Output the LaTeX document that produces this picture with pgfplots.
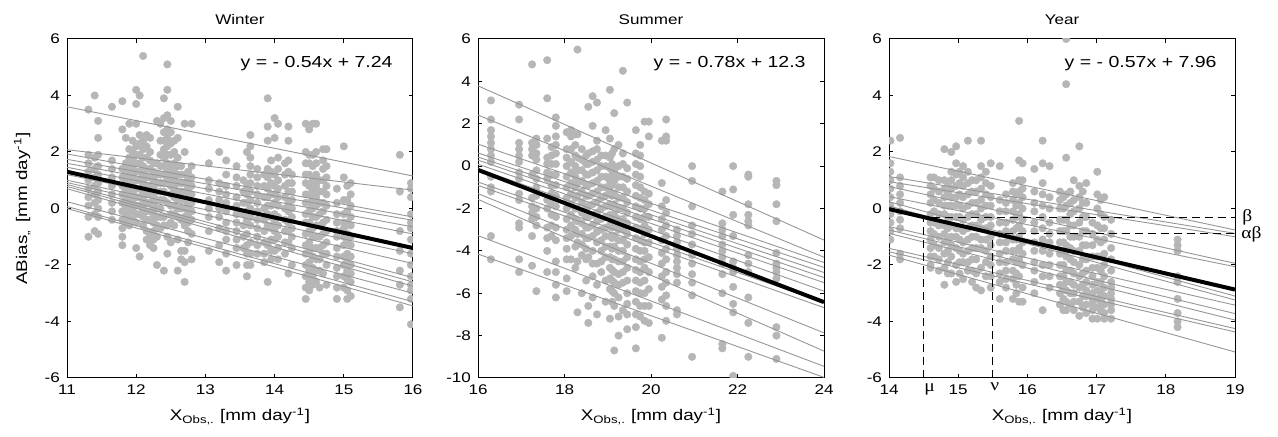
\documentclass[border=0pt]{standalone}
\usepackage{fontspec}
\setmainfont{Liberation Sans}[FakeStretch=1.22]
\newfontfamily\grk{Liberation Serif}[FakeStretch=1.15]
\usepackage{pgfplots}
\usepackage{pgfplotstable}
\pgfplotsset{compat=1.18}

\definecolor{dotgray}{RGB}{182,182,182}
\definecolor{linegray}{RGB}{150,150,150}

% one row per station column: x, then up to 12 model biases (nan = empty)
\pgfplotstableread{
x a b c d e f g h i j k l
11.31 3.5 1.9 1.6 1.3 1.0 0.7 0.4 0.1 -0.3 -1.0 nan nan
11.40 4.0 1.8 1.4 1.1 0.8 0.5 0.2 -0.2 -0.8 nan nan nan
11.45 3.1 2.5 1.9 1.5 1.2 0.9 0.6 0.3 0.0 -0.3 -0.9 nan
11.65 3.6 1.7 1.4 1.1 0.8 0.5 0.2 -0.1 -0.4 nan nan nan
11.80 3.8 2.8 1.4 1.1 0.8 0.5 0.2 -0.1 -0.4 -0.7 -1.0 -1.3
11.85 2.5 1.6 1.3 1.0 0.7 0.4 0.1 -0.2 -0.5 nan nan nan
11.90 3.0 2.1 1.8 1.5 1.2 0.9 0.6 0.3 0.0 -0.3 -0.6 nan
11.95 2.4 2.0 1.7 1.4 1.1 0.8 0.5 0.2 -0.1 -0.4 nan nan
12.00 4.2 3.7 3.0 2.2 1.9 1.6 1.3 1.0 0.7 0.4 0.1 -0.2
12.00 -0.5 -1.4 nan nan nan nan nan nan nan nan nan nan
12.05 4.0 2.6 2.3 1.9 1.6 1.3 1.0 0.7 0.4 0.1 -0.2 -1.7
12.10 5.4 2.4 2.1 1.8 1.5 1.2 0.9 0.6 0.3 0.0 -0.3 -0.6
12.15 2.6 2.2 1.8 1.4 1.1 0.8 0.5 0.2 -0.1 -0.4 -0.8 -1.1
12.20 2.5 2.0 1.7 1.4 1.1 0.8 0.5 0.2 -0.1 -0.4 -0.9 -1.3
12.25 1.6 1.3 1.0 0.7 0.4 0.1 -0.2 -0.5 -0.8 -1.1 -1.4 nan
12.30 3.1 1.6 1.2 0.9 0.6 0.3 0.0 -0.3 -0.6 -1.0 -2.0 nan
12.35 3.0 2.4 1.9 1.5 1.2 0.9 0.6 0.3 0.0 -0.3 -0.7 nan
12.40 3.9 3.2 2.7 2.4 2.1 1.8 1.5 1.2 0.9 0.6 0.3 -0.3
12.40 -0.6 -2.2 nan nan nan nan nan nan nan nan nan nan
12.45 5.1 4.2 3.3 2.8 2.5 2.2 1.9 1.6 1.3 1.0 0.2 -0.6
12.45 -1.0 -1.6 nan nan nan nan nan nan nan nan nan nan
12.50 3.1 2.7 2.3 1.9 1.5 1.1 0.8 0.5 0.1 -0.2 -0.5 -1.2
12.55 2.4 2.0 1.6 1.3 1.0 0.7 0.4 0.1 -0.2 -0.6 nan nan
12.60 3.6 2.5 1.8 1.5 1.2 0.9 0.6 0.3 0.0 -0.3 -1.1 -2.2
12.65 1.5 1.2 0.9 0.6 0.3 0.0 -0.4 -1.5 -1.8 nan nan nan
12.70 3.0 2.0 1.2 0.9 0.6 0.3 0.0 -0.3 -0.6 -1.5 -1.9 -2.6
12.75 1.3 1.0 0.7 0.4 0.1 -0.2 -0.5 -0.8 -1.2 nan nan nan
12.80 3.0 1.5 1.1 0.8 0.5 0.2 -0.1 -0.4 -0.9 -1.8 nan nan
13.05 1.6 1.0 0.7 0.3 0.0 -0.3 -0.8 -1.5 nan nan nan nan
13.20 2.0 0.9 0.6 0.3 0.0 -0.3 -0.7 -1.3 -1.9 nan nan nan
13.30 1.7 1.2 0.8 0.5 0.2 -0.1 -0.5 -0.8 -1.1 -1.6 -2.2 nan
13.45 1.5 1.1 0.8 0.4 0.1 -0.2 -0.5 -0.8 -1.1 -1.4 -2.0 nan
13.55 1.0 0.6 0.2 -0.2 -0.6 -1.0 -1.4 nan nan nan nan nan
13.60 2.0 0.8 0.5 0.2 -0.1 -0.4 -0.9 -1.3 -1.6 -2.0 -2.4 nan
13.65 2.6 2.2 1.8 1.5 1.2 0.9 0.6 0.3 0.0 -0.3 -0.6 -1.2
13.65 -1.6 -2.0 nan nan nan nan nan nan nan nan nan nan
13.75 1.4 1.1 0.8 0.5 0.2 -0.1 -0.4 -0.7 -1.0 -1.3 -1.6 nan
13.85 1.2 0.8 0.4 0.0 -0.4 -0.8 -1.2 -1.6 -1.9 nan nan nan
13.90 3.9 2.9 2.4 1.4 1.1 0.7 0.4 0.1 -0.2 -0.6 -1.3 -2.6
13.95 1.7 1.3 0.9 0.5 0.1 -0.3 -0.7 -1.1 -1.5 -1.8 nan nan
14.00 3.2 2.5 1.2 0.8 0.5 0.2 -0.2 -0.5 -0.8 -1.1 -1.5 nan
14.05 3.0 1.8 1.4 1.0 0.7 0.4 0.1 -0.3 -0.6 -1.0 -1.4 -1.8
14.15 1.6 1.2 0.8 0.4 0.0 -0.4 -0.8 -1.2 -1.6 nan nan nan
14.20 2.9 2.4 1.7 1.3 0.9 0.6 0.2 -0.1 -0.5 -0.8 -1.2 -2.3
14.25 1.2 0.9 0.6 0.3 0.0 -0.3 -0.7 -1.0 -1.4 -2.0 nan nan
14.45 3.0 2.0 1.6 1.2 0.9 0.5 0.2 -0.2 -0.5 -0.9 -1.3 -1.6
14.45 -2.0 -2.4 -2.8 -3.2 nan nan nan nan nan nan nan nan
14.50 2.8 1.9 1.6 1.2 0.8 0.5 0.2 -0.1 -0.5 -0.8 -1.2 -1.5
14.50 -1.9 -2.2 -2.6 -2.9 nan nan nan nan nan nan nan nan
14.55 3.0 1.9 1.5 1.0 0.6 0.3 0.0 -0.3 -0.7 -1.0 -1.4 -1.7
14.55 -2.1 -2.4 -2.7 nan nan nan nan nan nan nan nan nan
14.60 3.0 2.0 1.6 1.2 0.8 0.4 0.1 -0.3 -0.6 -1.0 -1.4 -1.8
14.60 -2.2 -2.6 nan nan nan nan nan nan nan nan nan nan
14.65 1.0 0.6 0.2 -0.2 -0.6 -1.0 -1.4 -1.8 -2.2 -2.8 nan nan
14.70 2.1 1.7 1.4 1.0 0.6 0.2 -0.1 -0.5 -0.9 -1.3 -1.6 -2.3
14.75 2.1 1.5 1.1 0.8 0.5 0.1 -0.4 -0.8 -1.2 -1.6 -2.0 -2.7
14.90 0.7 0.2 -0.2 -0.5 -0.8 -1.0 -1.4 -1.7 -2.1 -2.4 -2.8 -3.2
15.00 2.2 1.1 0.3 -0.2 -0.5 -0.7 -1.0 -1.3 -1.7 -2.0 -2.4 -2.8
15.05 0.8 0.3 -0.1 -0.5 -0.9 -1.2 -1.6 -1.9 -2.2 -2.5 -2.9 -3.2
15.10 0.9 0.5 0.1 -0.3 -0.6 -1.0 -1.3 -1.7 -2.0 -2.3 -2.6 -3.1
15.81 1.9 0.6 -0.8 -1.5 -2.2 -2.7 -3.5 nan nan nan nan nan
15.97 0.9 0.7 0.4 -0.2 -0.5 -0.7 -1.1 -1.6 -2.0 -2.4 -2.7 -2.9
15.97 -3.2 -4.1 nan nan nan nan nan nan nan nan nan nan
}\wintertab

\pgfplotstableread{
x a b c d e f g h i j k l
16.30 3.1 2.2 1.7 1.4 1.1 0.8 0.5 0.2 -0.5 -1.0 -1.2 -3.3
16.30 -4.4 nan nan nan nan nan nan nan nan nan nan nan
16.95 2.9 2.2 1.1 0.8 0.5 0.2 -0.3 -0.6 -1.3 -1.6 -2.7 -2.9
16.95 -4.4 -5.0 nan nan nan nan nan nan nan nan nan nan
17.25 4.8 1.1 0.8 0.5 -0.4 -1.5 -1.9 -2.2 -2.5 -3.3 -4.7 nan
17.35 1.3 1.0 0.6 0.3 -0.2 -0.6 -1.0 -1.4 -2.0 -2.4 -2.8 -5.9
17.60 5.0 3.2 1.3 0.4 0.1 -0.3 -0.6 -1.6 -2.0 -2.9 -3.4 -4.0
17.60 -5.0 nan nan nan nan nan nan nan nan nan nan nan
17.70 0.9 0.5 0.1 -0.4 -0.9 -1.3 -1.8 -2.3 -2.8 -3.3 nan nan
17.80 2.3 1.9 1.4 1.0 0.6 0.1 -0.4 -0.9 -1.4 -1.9 -2.4 -2.9
17.80 -3.5 -4.5 -5.0 -5.6 -6.2 nan nan nan nan nan nan nan
18.05 1.6 0.8 0.4 0.0 -0.5 -1.0 -1.5 -2.0 -2.5 -3.0 -3.4 -3.9
18.05 -4.4 -5.3 -5.9 nan nan nan nan nan nan nan nan nan
18.15 1.7 1.4 0.8 0.2 -0.3 -0.8 -1.3 -1.8 -2.3 -2.8 -3.3 -4.4
18.25 1.5 1.0 0.5 0.0 -0.5 -1.0 -1.5 -2.0 -2.5 -3.0 -3.8 -4.8
18.30 5.5 1.5 0.4 -0.2 -0.8 -1.4 -2.0 -2.6 -3.2 -3.6 -4.5 -6.9
18.40 0.8 0.3 -0.2 -0.7 -1.2 -1.7 -2.2 -2.7 -3.2 -3.7 -4.2 -6.0
18.50 0.5 0.1 -0.4 -0.9 -1.4 -1.9 -2.4 -2.9 -3.4 -3.9 -4.4 -5.4
18.55 2.8 0.6 0.1 -0.4 -0.9 -1.4 -1.9 -2.4 -2.9 -3.4 -4.3 -6.6
18.55 -7.4 nan nan nan nan nan nan nan nan nan nan nan
18.65 3.3 1.9 0.7 0.2 -0.3 -0.8 -1.3 -1.8 -2.3 -2.8 -3.3 -4.0
18.65 -4.6 -5.2 -6.2 nan nan nan nan nan nan nan nan nan
18.75 3.0 1.2 0.8 0.3 -0.2 -0.7 -1.2 -1.7 -2.2 -2.6 -3.1 -3.6
18.75 -4.6 -5.6 -7.0 nan nan nan nan nan nan nan nan nan
18.85 0.5 0.0 -0.5 -1.0 -1.5 -2.0 -2.5 -3.0 -3.5 -4.0 -4.5 -5.0
18.95 1.7 0.5 0.0 -0.5 -1.0 -1.4 -1.9 -2.4 -2.9 -3.3 -3.8 -4.3
18.95 -5.4 -6.4 nan nan nan nan nan nan nan nan nan nan
19.05 3.6 1.3 0.4 -0.1 -0.7 -1.2 -1.8 -2.3 -2.8 -3.3 -3.8 -4.3
19.05 -4.8 -5.3 -5.8 -7.2 nan nan nan nan nan nan nan nan
19.10 0.6 0.1 -0.4 -0.9 -1.4 -1.9 -2.4 -2.9 -3.4 -3.9 -4.4 -4.9
19.10 -5.4 -5.9 -6.4 nan nan nan nan nan nan nan nan nan
19.15 2.5 0.8 -0.2 -0.7 -1.3 -1.8 -2.3 -2.8 -3.3 -3.8 -4.4 -5.0
19.15 -5.5 -6.0 -6.6 -8.7 nan nan nan nan nan nan nan nan
19.25 1.0 0.0 -0.5 -1.0 -1.5 -2.0 -2.5 -3.0 -3.5 -4.0 -4.5 -5.1
19.25 -5.6 -6.2 -7.1 -8.0 nan nan nan nan nan nan nan nan
19.35 4.5 0.6 0.1 -0.5 -1.0 -1.5 -2.0 -2.5 -3.0 -3.5 -4.0 -4.5
19.35 -5.0 -5.5 -6.8 nan nan nan nan nan nan nan nan nan
19.45 3.0 -0.1 -0.6 -1.2 -1.7 -2.2 -2.7 -3.2 -3.7 -4.3 -4.8 -5.4
19.45 -6.0 -6.5 -7.0 -7.7 nan nan nan nan nan nan nan nan
19.65 1.7 0.6 0.1 -0.4 -0.9 -1.4 -1.9 -2.4 -2.9 -3.4 -3.9 -4.4
19.65 -4.9 -5.4 -5.9 -6.4 -7.0 -7.6 -8.6 nan nan nan nan nan
19.75 1.0 0.5 0.0 -0.5 -1.0 -1.5 -2.0 -2.5 -3.0 -3.5 -4.0 -4.5
19.75 -5.0 -5.5 -6.0 -6.6 -7.1 nan nan nan nan nan nan nan
19.85 2.1 -1.2 -1.6 -2.0 -2.4 -2.8 -3.2 -3.6 -4.0 -4.4 -4.8 -5.4
19.85 -6.0 -6.6 -7.3 nan nan nan nan nan nan nan nan nan
19.95 2.1 1.4 -1.3 -1.8 -2.4 -3.0 -3.6 -4.3 -5.0 -5.8 -6.6 -7.4
20.25 1.2 -0.8 -1.9 -2.5 -3.0 -3.5 -4.1 -4.6 -5.2 -5.7 -6.3 -8.1
20.35 2.2 1.4 1.2 -1.6 -2.2 -2.8 -3.3 -3.9 -4.4 -5.0 -5.5 -6.1
20.35 -6.6 -7.3 nan nan nan nan nan nan nan nan nan nan
20.60 -3.0 -3.3 -3.6 -3.9 -4.2 -4.5 -4.8 -5.1 -5.5 -6.8 -7.0 nan
20.95 0.0 -0.7 -1.9 -2.8 -3.2 -3.7 -4.2 -4.6 -5.1 -5.5 -6.1 -9.0
21.65 -1.2 -2.7 -3.0 -3.3 -3.7 -4.0 -4.3 -4.6 -5.1 -6.0 -8.4 -8.6
21.90 0.0 -1.1 -2.3 -3.3 -4.5 -4.8 -5.0 -5.7 -6.5 -6.9 -9.9 nan
22.25 -0.4 -0.5 -1.8 -2.3 -2.6 -2.8 -4.2 -4.6 -5.0 -6.2 -7.4 -9.0
22.90 -0.7 -0.9 -1.8 -2.6 -4.1 -4.6 -4.8 -5.0 -5.3 -7.6 -8.0 -9.1
}\summertab

\pgfplotstableread{
x a b c d e f g h i j k l
14.02 2.4 1.6 1.3 1.0 0.7 0.4 0.1 -0.2 -0.5 -0.8 -1.1 nan
14.16 2.5 1.1 0.8 0.5 0.2 -0.1 -0.4 -0.7 -1.6 -1.8 nan nan
14.60 1.1 0.8 0.5 0.2 -0.2 -0.5 -0.8 -1.1 -1.4 -1.7 -2.0 -2.1
14.65 1.1 0.7 0.3 -0.1 -0.5 -0.9 -1.3 -1.7 nan nan nan nan
14.72 1.0 0.6 0.2 -0.2 -0.6 -1.0 -1.4 -1.8 -2.2 nan nan nan
14.80 2.1 1.0 0.7 0.4 0.1 -0.2 -0.6 -0.9 -1.2 -1.6 -2.1 -2.7
14.85 0.9 0.5 0.1 -0.3 -0.7 -1.1 -1.5 -1.9 -2.3 nan nan nan
14.90 2.0 1.3 1.0 0.7 0.4 0.1 -0.3 -0.6 -1.0 -1.3 -1.7 -2.3
14.97 2.2 1.6 1.2 0.8 0.4 0.1 -0.3 -0.7 -1.0 -1.4 -2.0 -2.6
15.02 1.3 0.9 0.5 0.1 -0.3 -0.7 -1.1 -1.5 -1.9 -2.3 nan nan
15.07 1.5 1.1 0.8 0.4 0.0 -0.4 -0.8 -1.2 -1.6 -1.9 -2.5 nan
15.14 2.4 1.3 0.9 0.5 0.1 -0.3 -0.7 -1.1 -1.5 -1.9 -2.2 nan
15.20 1.0 0.6 0.2 -0.2 -0.6 -1.0 -1.4 -1.8 -2.2 -2.6 nan nan
15.26 1.0 0.6 0.2 -0.2 -0.6 -1.0 -1.4 -1.8 -2.3 -2.8 nan nan
15.33 2.4 1.5 1.1 0.7 0.3 0.0 -0.4 -0.7 -1.1 -1.4 -2.1 -2.9
15.40 1.3 0.9 0.5 0.1 -0.3 -0.7 -1.1 -1.5 -1.9 -2.4 nan nan
15.47 1.6 0.8 0.4 0.1 -0.3 -0.6 -1.0 -1.3 -1.7 -2.0 -2.4 -2.8
15.60 1.5 0.3 -0.1 -0.5 -0.9 -1.2 -1.6 -1.9 -2.3 -2.6 -3.2 nan
15.69 0.5 0.2 -0.1 -0.5 -0.8 -1.2 -1.5 -1.9 -2.2 -2.5 -2.8 nan
15.79 0.9 0.6 0.3 -0.1 -0.4 -0.8 -1.1 -1.5 -1.8 -2.2 -2.5 -3.2
15.84 0.5 0.1 -0.3 -0.7 -1.1 -1.5 -1.9 -2.3 -2.7 -3.0 nan nan
15.88 3.1 1.7 1.0 0.6 0.2 -0.2 -0.6 -1.0 -1.4 -1.8 -2.4 -3.3
15.93 1.6 1.0 0.7 0.4 0.0 -0.4 -0.8 -1.2 -1.6 -2.0 -2.8 -3.3
16.10 1.4 0.6 0.2 -0.1 -0.5 -0.8 -1.2 -1.5 -1.9 -2.2 -2.6 -3.0
16.22 2.4 1.6 0.9 0.5 0.1 -0.3 -0.7 -1.1 -1.5 -2.0 -2.4 -3.6
16.32 1.5 0.4 0.0 -0.5 -0.9 -1.2 -1.6 -2.0 -2.4 -2.8 nan nan
16.47 0.6 0.3 0.0 -0.4 -0.8 -1.2 -1.6 -2.0 -2.4 -2.7 -3.0 -3.4
16.52 0.4 0.0 -0.4 -0.8 -1.2 -1.6 -2.0 -2.4 -2.8 -3.2 -3.6 nan
16.56 6.0 4.4 1.8 0.5 0.1 -0.4 -0.8 -1.3 -1.7 -2.2 -2.6 -2.9
16.56 -3.3 -3.6 nan nan nan nan nan nan nan nan nan nan
16.62 0.6 0.2 -0.2 -0.6 -1.0 -1.4 -1.8 -2.2 -2.6 -3.0 -3.4 nan
16.67 1.0 0.3 -0.1 -0.6 -1.0 -1.5 -1.9 -2.3 -2.7 -3.0 -3.3 -3.6
16.75 2.2 0.8 0.4 0.0 -0.5 -1.0 -1.5 -2.0 -2.4 -2.8 -3.3 -3.8
16.80 0.6 0.2 -0.3 -0.8 -1.3 -1.8 -2.3 -2.7 -3.1 -3.5 nan nan
16.85 0.9 0.2 -0.3 -0.8 -1.3 -1.8 -2.2 -2.6 -2.9 -3.1 -3.4 -3.7
16.94 -0.5 -0.9 -1.3 -1.7 -2.1 -2.4 -2.7 -3.0 -3.2 -3.4 -3.6 -3.9
17.01 1.3 0.5 0.0 -0.6 -1.1 -1.7 -2.1 -2.6 -2.9 -3.2 -3.5 -3.9
17.06 0.3 -0.2 -0.7 -1.2 -1.7 -2.2 -2.6 -3.0 -3.3 -3.6 nan nan
17.11 0.4 -0.3 -0.7 -1.1 -1.6 -2.0 -2.4 -2.8 -3.1 -3.4 -3.7 -3.9
17.21 -0.4 -0.9 -1.4 -1.8 -2.2 -2.6 -2.8 -3.0 -3.2 -3.4 -3.6 -3.9
18.17 -1.1 -1.3 -1.5 -2.4 -2.6 -3.2 -3.7 -4.0 -4.2 nan nan nan
}\yeartab

\pgfplotsset{
  panel/.style={
    scale only axis, width=173pt, height=169.5pt,
    anchor=south west,
    clip marker paths=true,
    axis line style={line width=0.5pt},
    tick align=inside, major tick length=2pt,
    tick style={black, line width=0.5pt},
    /pgf/number format/assume math mode=true,
    tick label style={font=\fontsize{7}{8}\selectfont},
    label style={font=\fontsize{7.7}{9}\selectfont},
    title style={font=\fontsize{7}{8}\selectfont, at={(0.5,1)}, anchor=base, yshift=1pt},
    xlabel style={at={(0.5,0)}, anchor=base, yshift=-21.5pt},
    xlabel={X\textsubscript{Obs,.} [mm day\textsuperscript{-1}]},
  },
  dots/.style={only marks, color=dotgray, mark=*, mark size=1.9pt,
    mark options={draw=dotgray, fill=dotgray, line width=0.2pt}},
  fit/.style={linegray, line width=0.45pt},
  reg/.style={black, line width=2pt},
}
\tikzset{
  eq/.style={anchor=base east, font=\fontsize{8}{9}\selectfont, inner sep=0pt},
  grlab/.style={inner sep=0pt, font=\grk\fontsize{8.5}{9}\selectfont},
}

\begin{document}
\begin{tikzpicture}
\useasboundingbox (0,0) rectangle (639pt,218.5pt);

% ---- Winter
\begin{axis}[panel, at={(33.5pt,29.5pt)},
  xmin=11, xmax=16, ymin=-6, ymax=6,
  xtick={11,...,16}, ytick={-6,-4,...,6},
  title={Winter},
  ylabel={ABias\textsubscript{,,}\enspace[mm day\textsuperscript{-1}]},
  ylabel style={at={(0,0.5)}, anchor=base, yshift=20pt}]
\pgfplotsinvokeforeach{1,...,12}{\addplot[dots] table[x index=0, y index=#1] {\wintertab};}
\addplot[fit] coordinates {(11,3.60)(16,1.15)};
\addplot[fit] coordinates {(11,2.08)(16,0.65)};
\addplot[fit] coordinates {(11,1.93)(16,-0.30)};
\addplot[fit] coordinates {(11,1.74)(16,-0.42)};
\addplot[fit] coordinates {(11,1.60)(16,-0.65)};
\addplot[fit] coordinates {(11,1.46)(16,-0.90)};
\addplot[fit] coordinates {(11,1.20)(16,-1.35)};
\addplot[fit] coordinates {(11,1.00)(16,-1.60)};
\addplot[fit] coordinates {(11,0.92)(16,-1.95)};
\addplot[fit] coordinates {(11,0.85)(16,-2.45)};
\addplot[fit] coordinates {(11,0.78)(16,-2.60)};
\addplot[fit] coordinates {(11,0.70)(16,-2.75)};
\addplot[fit] coordinates {(11,0.24)(16,-3.00)};
\addplot[fit] coordinates {(11,0.07)(16,-3.30)};
\addplot[fit] coordinates {(11,0.00)(16,-3.45)};
\addplot[reg] coordinates {(11,1.30)(16,-1.40)};
\node[eq, xshift=-10pt, yshift=-14.5pt] at (rel axis cs:1,1) {y = - 0.54x + 7.24};
\end{axis}

% ---- Summer
\begin{axis}[panel, at={(239pt,29.5pt)},
  xmin=16, xmax=24, ymin=-10, ymax=6,
  xtick={16,18,...,24}, ytick={-10,-8,...,6},
  title={Summer}]
\pgfplotsinvokeforeach{1,...,12}{\addplot[dots] table[x index=0, y index=#1] {\summertab};}
\addplot[fit] coordinates {(16,3.79)(24,-3.49)};
\addplot[fit] coordinates {(16,2.41)(24,-4.30)};
\addplot[fit] coordinates {(16,1.04)(24,-4.55)};
\addplot[fit] coordinates {(16,0.62)(24,-4.78)};
\addplot[fit] coordinates {(16,0.43)(24,-5.02)};
\addplot[fit] coordinates {(16,0.28)(24,-5.26)};
\addplot[fit] coordinates {(16,0.09)(24,-5.50)};
\addplot[fit] coordinates {(16,-0.12)(24,-5.90)};
\addplot[fit] coordinates {(16,-0.75)(24,-6.44)};
\addplot[fit] coordinates {(16,-0.91)(24,-6.68)};
\addplot[fit] coordinates {(16,-1.30)(24,-7.87)};
\addplot[fit] coordinates {(16,-1.57)(24,-8.73)};
\addplot[fit] coordinates {(16,-3.28)(24,-9.45)};
\addplot[fit] coordinates {(16,-4.15)(24,-9.97)};
\addplot[reg] coordinates {(16,-0.18)(24,-6.42)};
\node[eq, xshift=-9pt, yshift=-14.5pt] at (rel axis cs:1,1) {y = - 0.78x + 12.3};
\end{axis}

% ---- Year
\begin{axis}[panel, at={(444.5pt,29.5pt)},
  xmin=14, xmax=19, ymin=-6, ymax=6,
  xtick={14,...,19}, ytick={-6,-4,...,6},
  title={Year}, clip mode=individual]
\pgfplotsinvokeforeach{1,...,12}{\addplot[dots] table[x index=0, y index=#1] {\yeartab};}
\addplot[fit] coordinates {(14,1.84)(19,-0.76)};
\addplot[fit] coordinates {(14,1.13)(19,-0.88)};
\addplot[fit] coordinates {(14,0.95)(19,-1.00)};
\addplot[fit] coordinates {(14,0.78)(19,-1.94)};
\addplot[fit] coordinates {(14,0.42)(19,-2.06)};
\addplot[fit] coordinates {(14,0.24)(19,-3.10)};
\addplot[fit] coordinates {(14,0.09)(19,-3.24)};
\addplot[fit] coordinates {(14,-0.64)(19,-3.42)};
\addplot[fit] coordinates {(14,-0.76)(19,-3.72)};
\addplot[fit] coordinates {(14,-0.88)(19,-3.95)};
\addplot[fit] coordinates {(14,-1.41)(19,-4.25)};
\addplot[fit] coordinates {(14,-1.53)(19,-4.37)};
\addplot[fit] coordinates {(14,-1.65)(19,-5.08)};
\addplot[reg] coordinates {(14,-0.02)(19,-2.87)};
\addplot[black, line width=0.5pt, dash pattern=on 4pt off 2.5pt] coordinates {(14.5,-6)(14.5,-0.33)(19,-0.33)};
\addplot[black, line width=0.5pt, dash pattern=on 4pt off 2.5pt] coordinates {(15.5,-6)(15.5,-0.90)(19,-0.90)};
\node[eq, xshift=-9pt, yshift=-14.5pt] at (rel axis cs:1,1) {y = - 0.57x + 7.96};
\node[grlab, anchor=west, xshift=3.5pt] at (axis cs:19,-0.33) {β};
\node[grlab, anchor=west, xshift=3pt] at (axis cs:19,-0.90) {αβ};
\node[grlab, xshift=3pt, yshift=-5.5pt] at (axis cs:14.5,-6) {μ};
\node[grlab, xshift=1pt, yshift=-4.5pt] at (axis cs:15.5,-6) {ν};
\end{axis}
\end{tikzpicture}
\end{document}
